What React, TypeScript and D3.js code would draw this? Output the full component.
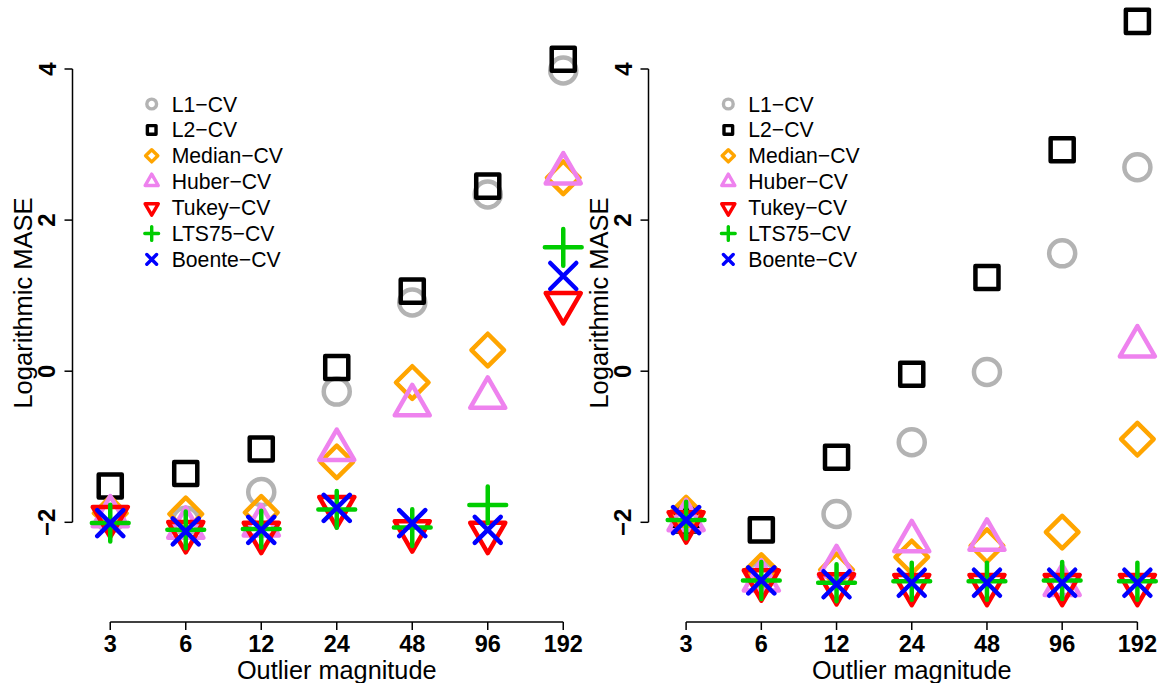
import { useEffect, useRef } from "react";
import * as d3 from "d3";

// Outlier magnitudes on the x axis
const magnitudes = ["3", "6", "12", "24", "48", "96", "192"];
const yTicks = [-2, 0, 2, 4];

const methodNames = ["L1−CV", "L2−CV", "Median−CV", "Huber−CV", "Tukey−CV", "LTS75−CV", "Boente−CV"];
const methodColors = ["#b3b3b3", "#000000", "#ffa500", "#ee82ee", "#ff0000", "#00cd00", "#0000ff"];
const methodShapes = ["circle", "square", "diamond", "up", "down", "plus", "cross"];

// left panel (log MASE)
const leftL1 = [-1.95, -1.98, -1.6, -0.27, 0.91, 2.34, 3.98];
const leftL2 = [-1.52, -1.355, -1.03, 0.05, 1.06, 2.45, 4.13];
const leftMedian = [-1.88, -1.89, -1.87, -1.2, -0.15, 0.28, 2.56];
const leftHuber = [-1.92, -2.07, -2.04, -1.04, -0.45, -0.35, 2.62];
const leftTukey = [-1.93, -2.13, -2.14, -1.8, -2.12, -2.14, 0.9];
const leftLTS = [-2.01, -2.1, -2.09, -1.83, -2.07, -1.77, 1.64];
const leftBoente = [-2.01, -2.12, -2.1, -1.81, -2.01, -2.1, 1.26];

// right panel (log MASE)
const rightL1 = [-1.97, -2.7, -1.89, -0.94, -0.01, 1.56, 2.7];
const rightL2 = [-1.97, -2.1, -1.14, -0.04, 1.24, 2.93, 4.63];
const rightMedian = [-1.88, -2.64, -2.63, -2.46, -2.31, -2.13, -0.9];
const rightHuber = [-1.97, -2.77, -2.58, -2.25, -2.23, -2.83, 0.33];
const rightTukey = [-2.0, -2.77, -2.82, -2.83, -2.83, -2.83, -2.83];
const rightLTS = [-1.97, -2.77, -2.8, -2.78, -2.78, -2.77, -2.78];
const rightBoente = [-1.97, -2.77, -2.82, -2.8, -2.8, -2.8, -2.8];

const leftSeries = [leftL1, leftL2, leftMedian, leftHuber, leftTukey, leftLTS, leftBoente];
const rightSeries = [rightL1, rightL2, rightMedian, rightHuber, rightTukey, rightLTS, rightBoente];

const FONT = "'Liberation Sans', Arial, Helvetica, sans-serif";

// R-like plotting symbols, s = symbol size in px
function symbolPath(kind: string, cx: number, cy: number, s: number) {
    const r = 0.375 * s;
    const p = d3.path();
    if (kind === "circle") {
        p.moveTo(cx + r, cy);
        p.arc(cx, cy, r, 0, 2 * Math.PI);
    } else if (kind === "square") {
        const h = r * 0.8862;
        p.rect(cx - h, cy - h, 2 * h, 2 * h);
    } else if (kind === "diamond") {
        const d = r * 1.2533;
        p.moveTo(cx, cy - d);
        p.lineTo(cx + d, cy);
        p.lineTo(cx, cy + d);
        p.lineTo(cx - d, cy);
        p.closePath();
    } else if (kind === "up" || kind === "down") {
        const t = r * 1.5551;
        const xc = t * 0.866;
        const sgn = kind === "up" ? 1 : -1;
        p.moveTo(cx, cy - sgn * t);
        p.lineTo(cx + xc, cy + sgn * t / 2);
        p.lineTo(cx - xc, cy + sgn * t / 2);
        p.closePath();
    } else if (kind === "plus") {
        const h = r * Math.SQRT2;
        p.moveTo(cx - h, cy);
        p.lineTo(cx + h, cy);
        p.moveTo(cx, cy - h);
        p.lineTo(cx, cy + h);
    } else {
        p.moveTo(cx - r, cy - r);
        p.lineTo(cx + r, cy + r);
        p.moveTo(cx - r, cy + r);
        p.lineTo(cx + r, cy - r);
    }
    return p.toString();
}

const App = () => {
    const ref = useRef<SVGSVGElement>(null);

    useEffect(() => {
        const svg = d3.select(ref.current);
        svg.selectAll("*").remove();

        const y = d3.scaleLinear().domain([-2, 4]).range([522.3, 69]);

        const panels = [
            { series: leftSeries, x0: 72.5, x1: 601, legendX: 151.7 },
            { series: rightSeries, x0: 648.5, x1: 1175, legendX: 728.3 },
        ];

        panels.forEach((panel) => {
            const g = svg.append("g");
            const x = d3.scaleLinear().domain([0.5, 7.5]).range([panel.x0, panel.x1]);
            const ax = panel.x0;

            // y axis
            g.append("line")
                .attr("x1", ax).attr("x2", ax)
                .attr("y1", y(4)).attr("y2", y(-2))
                .attr("stroke", "#000").attr("stroke-width", 1.5);
            yTicks.forEach((t) => {
                g.append("line")
                    .attr("x1", ax - 8).attr("x2", ax)
                    .attr("y1", y(t)).attr("y2", y(t))
                    .attr("stroke", "#000").attr("stroke-width", 1.5);
                g.append("text")
                    .attr("x", ax - 25.5).attr("y", y(t))
                    .attr("transform", `rotate(-90, ${ax - 25.5}, ${y(t)})`)
                    .attr("text-anchor", "middle")
                    .attr("dominant-baseline", "central")
                    .attr("font-family", FONT).attr("font-size", 24).attr("font-weight", "bold")
                    .text(t < 0 ? `−${-t}` : `${t}`);
            });
            g.append("text")
                .attr("x", ax - 50).attr("y", 303)
                .attr("transform", `rotate(-90, ${ax - 50}, 303)`)
                .attr("text-anchor", "middle")
                .attr("dominant-baseline", "central")
                .attr("font-family", FONT).attr("font-size", 25.5)
                .text("Logarithmic MASE");

            // x axis
            const axY = 622;
            g.append("line")
                .attr("x1", x(1)).attr("x2", x(7))
                .attr("y1", axY).attr("y2", axY)
                .attr("stroke", "#000").attr("stroke-width", 1.5);
            magnitudes.forEach((m, i) => {
                g.append("line")
                    .attr("x1", x(i + 1)).attr("x2", x(i + 1))
                    .attr("y1", axY).attr("y2", axY + 8)
                    .attr("stroke", "#000").attr("stroke-width", 1.5);
                g.append("text")
                    .attr("x", x(i + 1)).attr("y", axY + 22)
                    .attr("text-anchor", "middle")
                    .attr("dominant-baseline", "central")
                    .attr("font-family", FONT).attr("font-size", 23.5).attr("font-weight", "bold")
                    .text(m);
            });
            g.append("text")
                .attr("x", x(4)).attr("y", axY + 48)
                .attr("text-anchor", "middle")
                .attr("dominant-baseline", "central")
                .attr("font-family", FONT).attr("font-size", 25.3)
                .text("Outlier magnitude");

            // points, drawn in legend order so Boente ends on top
            panel.series.forEach((vals, k) => {
                g.selectAll(null)
                    .data(vals)
                    .enter()
                    .append("path")
                    .attr("d", (v, i) => symbolPath(methodShapes[k], x(i + 1), y(v), 34.7))
                    .attr("fill", "none")
                    .attr("stroke", methodColors[k])
                    .attr("stroke-width", 4.5)
                    .attr("stroke-linejoin", "round")
                    .attr("stroke-linecap", "round");
            });

            // legend
            methodNames.forEach((name, k) => {
                const ly = 104 + k * 25.9;
                g.append("path")
                    .attr("d", symbolPath(methodShapes[k], panel.legendX, ly, 13))
                    .attr("fill", "none")
                    .attr("stroke", methodColors[k])
                    .attr("stroke-width", 3.4)
                    .attr("stroke-linejoin", "round")
                    .attr("stroke-linecap", "round");
                g.append("text")
                    .attr("x", panel.legendX + 20).attr("y", ly)
                    .attr("dominant-baseline", "central")
                    .attr("font-family", FONT).attr("font-size", 21.2)
                    .text(name);
            });
        });
    }, []);

    return (
        <svg
            ref={ref}
            width={1175}
            height={683}
            style={{ position: "absolute", left: 0, top: 0, background: "#fff" }}
        ></svg>
    );
};

export default App;
